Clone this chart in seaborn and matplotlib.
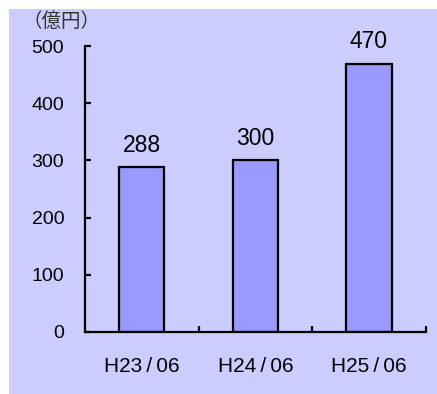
import matplotlib
matplotlib.use("Agg")
import matplotlib.pyplot as plt
import seaborn as sns
import pandas as pd
from matplotlib.patches import Rectangle

# Data
periods = ["H23\u2009/\u200906", "H24\u2009/\u200906", "H25\u2009/\u200906"]
amounts = [288, 300, 470]
y_ticks = [0, 100, 200, 300, 400, 500]
unit_label = "（億円）"

sns.set_theme(style="white")
plt.rcParams["font.family"] = ["Liberation Sans", "DejaVu Sans", "Noto Sans CJK JP"]

df = pd.DataFrame({"period": periods, "amount": amounts})

fig = plt.figure(figsize=(4.37, 3.94), dpi=100)
fig.patch.set_facecolor("white")

# lavender panel behind the chart, leaving a thin white margin at left and top
bg = fig.add_axes([0, 0, 1, 1], zorder=0)
bg.set_axis_off()
bg.add_patch(Rectangle((9 / 437, 0), 1, 1 - 9 / 394, transform=bg.transAxes,
                       facecolor="#CCCCFF", edgecolor="none"))

ax = fig.add_axes([85 / 437, 1 - 331.5 / 394, (425.7 - 85) / 437, (331.5 - 46.5) / 394], zorder=1)
ax.set_facecolor("none")

sns.barplot(data=df, x="period", y="amount", color="#9999FF", edgecolor="black",
            linewidth=1.6, width=0.4, saturation=1, ax=ax)

ax.set_xlim(-0.5, 2.5)
ax.set_ylim(0, 500)
ax.set_yticks(y_ticks)
ax.set_xlabel("")
ax.set_ylabel("")

for s in ["top", "right"]:
    ax.spines[s].set_visible(False)
for s in ["left", "bottom"]:
    ax.spines[s].set_color("black")
    ax.spines[s].set_linewidth(1.6)

ax.tick_params(axis="y", which="major", direction="in", length=4, width=1.6,
               color="black", labelsize=14, labelcolor="black", pad=15, left=True)
ax.tick_params(axis="x", which="major", length=0, labelsize=15, labelcolor="black", pad=18)
ax.set_xticks([0.5, 1.5, 2.5], minor=True)
ax.tick_params(axis="x", which="minor", direction="in", length=4, width=1.6,
               color="black", bottom=True)

for i, v in enumerate(amounts):
    ax.text(i, v + 27, str(v), ha="center", va="baseline", fontsize=16.5, color="black")

fig.text(23 / 437, 1 - 21 / 394, unit_label, ha="left", va="center", fontsize=14,
         color="#333333", family=["Noto Sans CJK JP", "DejaVu Sans"], zorder=2)

fig.savefig("out.png", dpi=100)
